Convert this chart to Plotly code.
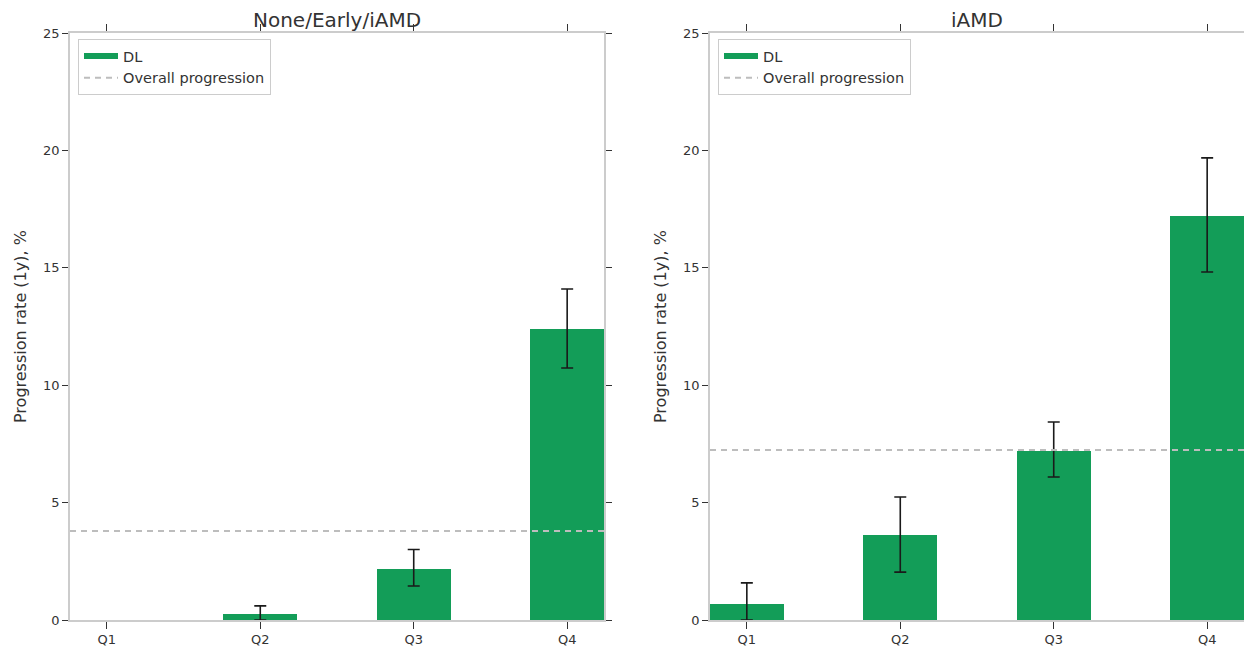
import plotly.graph_objects as go

categories = ["Q1", "Q2", "Q3", "Q4"]

left_title = "None/Early/iAMD"
left_values = [0.0, 0.25, 2.17, 12.4]
left_err_plus = [None, 0.35, 0.83, 1.7]
left_err_minus = [None, 0.25, 0.72, 1.67]
left_overall = 3.79

right_title = "iAMD"
right_values = [0.68, 3.62, 7.2, 17.2]
right_err_plus = [0.9, 1.62, 1.23, 2.48]
right_err_minus = [0.68, 1.58, 1.11, 2.38]
right_overall = 7.24

y_ticks = [0, 5, 10, 15, 20, 25]
y_title = "Progression rate (1y), %"

GREEN = "#139d58"
W, H = 1252, 649
OFF = 8  # page body margin offset
BAR_W = 0.48


def px_x(x):
    return (x - OFF) / W


def px_y(y):
    return (H - (y - OFF)) / H


fig = go.Figure()

panels = [
    dict(title=left_title, vals=left_values, ep=left_err_plus, em=left_err_minus,
         overall=left_overall, xa="x", ya="y", legend="legend",
         dom=[px_x(70), px_x(604)], ytx=20),
    dict(title=right_title, vals=right_values, ep=right_err_plus, em=right_err_minus,
         overall=right_overall, xa="x2", ya="y2", legend="legend2",
         dom=[px_x(710), px_x(1244)], ytx=660),
]

ydom = [px_y(620), px_y(33)]
annotations = []
shapes = []
for p in panels:
    fig.add_trace(go.Bar(
        x=categories, y=p["vals"], width=BAR_W, marker=dict(color=GREEN, line=dict(width=0)),
        xaxis=p["xa"], yaxis=p["ya"], showlegend=False, name="DL", hoverinfo="x+y",
    ))
    idx = [i for i, e in enumerate(p["ep"]) if e is not None]
    fig.add_trace(go.Scatter(
        x=[categories[i] for i in idx], y=[p["vals"][i] for i in idx], mode="markers",
        marker=dict(size=1, opacity=0),
        error_y=dict(type="data", symmetric=False,
                     array=[p["ep"][i] for i in idx], arrayminus=[p["em"][i] for i in idx],
                     color="#1a1a1a", thickness=1.6, width=6),
        xaxis=p["xa"], yaxis=p["ya"], showlegend=False, hoverinfo="skip",
    ))
    # legend proxy for the DL entry (thick line swatch)
    fig.add_trace(go.Scatter(
        x=[None], y=[None], mode="lines", line=dict(color=GREEN, width=6),
        name="DL", xaxis=p["xa"], yaxis=p["ya"], legend=p["legend"], showlegend=True,
    ))
    shapes.append(dict(
        type="line", xref=f"{p['xa']} domain", yref=p["ya"], x0=0, x1=1,
        y0=p["overall"], y1=p["overall"],
        line=dict(color="#bdbdbd", width=2, dash="6px,5px"),
        showlegend=True, name="Overall progression", legend=p["legend"], layer="above",
    ))
    cx = (p["dom"][0] + p["dom"][1]) / 2
    annotations.append(dict(
        text=p["title"], x=cx, y=px_y(20), xref="paper", yref="paper",
        showarrow=False, font=dict(size=20, color="#333333"), xanchor="center", yanchor="middle",
    ))
    annotations.append(dict(
        text=y_title, x=px_x(p["ytx"]), y=px_y(327), xref="paper", yref="paper",
        showarrow=False, textangle=-90, font=dict(size=16, color="#333333"),
        xanchor="center", yanchor="middle",
    ))

axis_common = dict(
    showline=True, linecolor="#cccccc", linewidth=1.5, mirror="ticks",
    ticks="outside", tickcolor="#333333", tickwidth=1.2,
    showgrid=False, zeroline=False,
    tickfont=dict(size=13, color="#333333"),
)

legend_common = dict(
    xanchor="left", yanchor="top",
    bordercolor="#cccccc", borderwidth=1, bgcolor="white",
    font=dict(size=14.5, color="#333333"), tracegroupgap=0, itemwidth=34,
)

fig.update_layout(
    width=W, height=H,
    margin=dict(l=0, r=0, t=0, b=0),
    paper_bgcolor="white", plot_bgcolor="white",
    font=dict(family="DejaVu Sans", color="#333333"),
    xaxis=dict(domain=panels[0]["dom"], anchor="y", range=[-BAR_W / 2, 3 + BAR_W / 2],
               ticklen=7, automargin=False, **axis_common),
    yaxis=dict(domain=ydom, anchor="x", range=[0, 25], tickvals=y_ticks, ticklen=6,
               automargin=False, **axis_common),
    xaxis2=dict(domain=panels[1]["dom"], anchor="y2", range=[-BAR_W / 2, 3 + BAR_W / 2],
                ticklen=7, automargin=False, **axis_common),
    yaxis2=dict(domain=ydom, anchor="x2", range=[0, 25], tickvals=y_ticks, ticklen=6,
                automargin=False, **axis_common),
    legend=dict(x=px_x(78), y=px_y(39), **legend_common),
    legend2=dict(x=px_x(718), y=px_y(39), **legend_common),
    shapes=shapes,
    annotations=annotations,
    bargap=0,
)

fig.write_html("out.html")
